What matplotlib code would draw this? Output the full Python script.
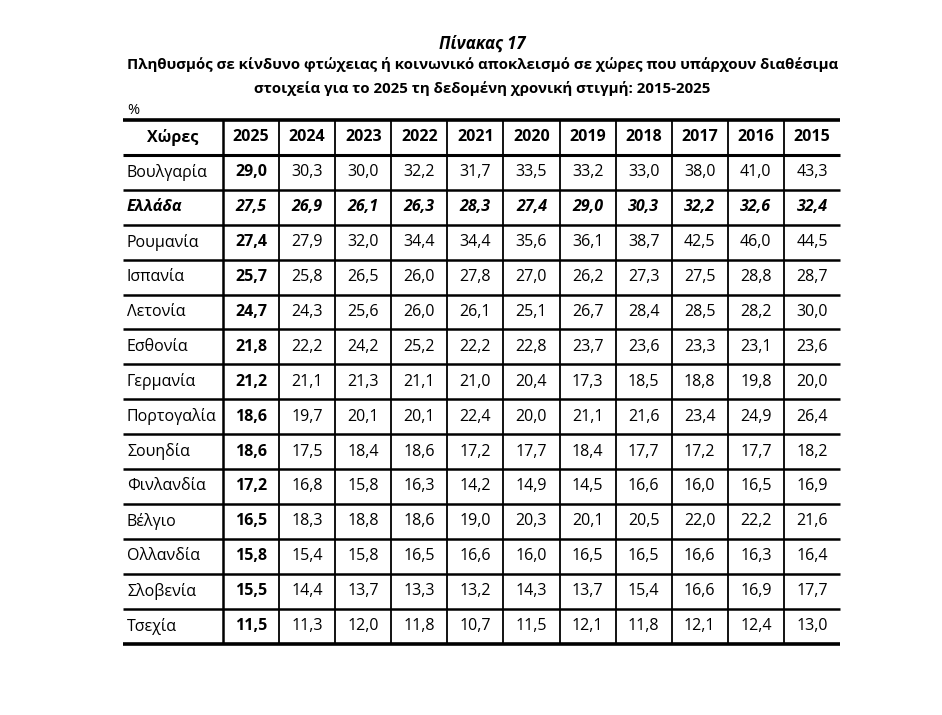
import matplotlib.pyplot as plt

plt.rcParams['font.family'] = ['Open Sans', 'DejaVu Sans']

title = "Πίνακας 17"
subtitle = ["Πληθυσμός σε κίνδυνο φτώχειας ή κοινωνικό αποκλεισμό σε χώρες που υπάρχουν διαθέσιμα",
            "στοιχεία για το 2025 τη δεδομένη χρονική στιγμή: 2015-2025"]
unit = "%"
first_col = "Χώρες"
years = ["2025", "2024", "2023", "2022", "2021", "2020", "2019", "2018", "2017", "2016", "2015"]
countries = ["Βουλγαρία", "Ελλάδα", "Ρουμανία", "Ισπανία", "Λετονία", "Εσθονία", "Γερμανία",
             "Πορτογαλία", "Σουηδία", "Φινλανδία", "Βέλγιο", "Ολλανδία", "Σλοβενία", "Τσεχία"]
values = [
    [29.0, 30.3, 30.0, 32.2, 31.7, 33.5, 33.2, 33.0, 38.0, 41.0, 43.3],
    [27.5, 26.9, 26.1, 26.3, 28.3, 27.4, 29.0, 30.3, 32.2, 32.6, 32.4],
    [27.4, 27.9, 32.0, 34.4, 34.4, 35.6, 36.1, 38.7, 42.5, 46.0, 44.5],
    [25.7, 25.8, 26.5, 26.0, 27.8, 27.0, 26.2, 27.3, 27.5, 28.8, 28.7],
    [24.7, 24.3, 25.6, 26.0, 26.1, 25.1, 26.7, 28.4, 28.5, 28.2, 30.0],
    [21.8, 22.2, 24.2, 25.2, 22.2, 22.8, 23.7, 23.6, 23.3, 23.1, 23.6],
    [21.2, 21.1, 21.3, 21.1, 21.0, 20.4, 17.3, 18.5, 18.8, 19.8, 20.0],
    [18.6, 19.7, 20.1, 20.1, 22.4, 20.0, 21.1, 21.6, 23.4, 24.9, 26.4],
    [18.6, 17.5, 18.4, 18.6, 17.2, 17.7, 18.4, 17.7, 17.2, 17.7, 18.2],
    [17.2, 16.8, 15.8, 16.3, 14.2, 14.9, 14.5, 16.6, 16.0, 16.5, 16.9],
    [16.5, 18.3, 18.8, 18.6, 19.0, 20.3, 20.1, 20.5, 22.0, 22.2, 21.6],
    [15.8, 15.4, 15.8, 16.5, 16.6, 16.0, 16.5, 16.5, 16.6, 16.3, 16.4],
    [15.5, 14.4, 13.7, 13.3, 13.2, 14.3, 13.7, 15.4, 16.6, 16.9, 17.7],
    [11.5, 11.3, 12.0, 11.8, 10.7, 11.5, 12.1, 11.8, 12.1, 12.4, 13.0],
]
highlight = "Ελλάδα"

# layout in pixels
W, H = 942, 715
left, name_w, right = 123, 100, 840
top, row_h = 120, 34.9
col_w = (right - left - name_w) / len(years)
fs = 11.5

fig = plt.figure(figsize=(W / 100, H / 100), dpi=100)
ax = fig.add_axes([0, 0, 1, 1])
ax.set_xlim(0, W)
ax.set_ylim(H, 0)
ax.axis('off')

cx = (left + right) / 2 + 1
ax.text(cx, 44, title, ha='center', va='center', fontsize=12, fontweight='bold', style='italic')
ax.text(cx, 65, subtitle[0], ha='center', va='center', fontsize=10.8, fontweight='bold')
ax.text(cx, 88, subtitle[1], ha='center', va='center', fontsize=10.8, fontweight='bold')
ax.text(127, 110, unit, ha='left', va='center', fontsize=10.5)

n_rows = len(countries) + 1
bottom = top + n_rows * row_h

# horizontal lines
ax.hlines([top, bottom], left, right, color='black', lw=2.6)
ax.hlines([top + row_h], left, right, color='black', lw=2.2)
for i in range(2, n_rows):
    ax.hlines(top + i * row_h, left, right, color='black', lw=1.8)
# vertical lines
for j in range(len(years)):
    xv = left + name_w + j * col_w
    ax.vlines(xv, top, bottom, color='black', lw=1.8 if j == 0 else 1.3)

# header
yh = top + row_h / 2
ax.text(left + name_w / 2, yh, first_col, ha='center', va='center', fontsize=fs, fontweight='bold')
for j, yr in enumerate(years):
    ax.text(left + name_w + (j + 0.5) * col_w, yh, yr, ha='center', va='center',
            fontsize=fs, fontweight='bold')

# body
for i, (name, row) in enumerate(zip(countries, values)):
    y = top + (i + 1.5) * row_h
    hl = name == highlight
    ax.text(left + 4, y, name, ha='left', va='center', fontsize=fs,
            fontweight='bold' if hl else 'normal', style='italic' if hl else 'normal')
    for j, v in enumerate(row):
        bold = hl or j == 0
        ax.text(left + name_w + (j + 0.5) * col_w, y, f"{v:.1f}".replace('.', ','),
                ha='center', va='center', fontsize=fs,
                fontweight='bold' if bold else 'normal', style='italic' if hl else 'normal')

fig.savefig("out.png", dpi=100, facecolor='white')
